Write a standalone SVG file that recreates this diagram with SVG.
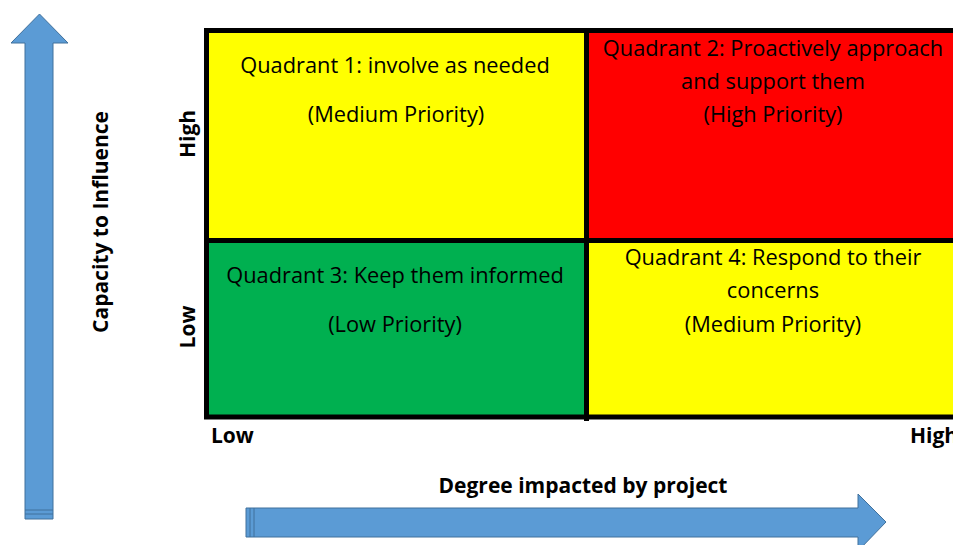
<svg xmlns="http://www.w3.org/2000/svg" width="953" height="545" viewBox="0 0 953 545">
<style>
.q{font-family:"Open Sans","Liberation Sans",sans-serif;font-size:21.8px;fill:#000;text-anchor:middle}
.b{font-family:"Open Sans","Liberation Sans",sans-serif;font-size:21px;font-weight:bold;fill:#000}
.arrow{fill:#5B9BD5;stroke:#41719C;stroke-width:1}
.grid{fill:none;stroke:#000;stroke-width:5}
</style>
<rect width="953" height="545" fill="#fff"/>
<g id="arrow-vertical">
<polygon class="arrow" points="39.5,14 68,43 53,43 53,519 25,519 25,43 11,43"/>
<line x1="25" y1="510" x2="53" y2="510" stroke="#41719C" stroke-width="1"/>
<line x1="25" y1="514" x2="53" y2="514" stroke="#41719C" stroke-width="1"/>
</g>
<g id="arrow-horizontal">
<polygon class="arrow" points="886,522 858,494 858,508 246,508 246,537 858,537 858,551"/>
<line x1="250" y1="508" x2="250" y2="537" stroke="#41719C" stroke-width="1"/>
<line x1="254" y1="508" x2="254" y2="537" stroke="#41719C" stroke-width="1"/>
</g>
<g id="q1">
<rect x="206.5" y="30.5" width="380" height="210" fill="#FFFF00"/>
<text class="q" x="395" y="73">Quadrant 1: involve as needed</text>
<text class="q" x="396" y="122">(Medium Priority)</text>
</g>
<g id="q2">
<rect x="586.5" y="30.5" width="380" height="210" fill="#FF0000"/>
<text class="q" x="773" y="56">Quadrant 2: Proactively approach</text>
<text class="q" x="773" y="89">and support them</text>
<text class="q" x="773" y="122">(High Priority)</text>
</g>
<g id="q3">
<rect x="206.5" y="240.5" width="380" height="176.5" fill="#00B050"/>
<text class="q" x="395" y="283">Quadrant 3: Keep them informed</text>
<text class="q" x="395" y="332">(Low Priority)</text>
</g>
<g id="q4">
<rect x="586.5" y="240.5" width="380" height="176.5" fill="#FFFF00"/>
<text class="q" x="773" y="265">Quadrant 4: Respond to their</text>
<text class="q" x="773" y="298">concerns</text>
<text class="q" x="773" y="332">(Medium Priority)</text>
</g>
<g id="grid-lines">
<rect class="grid" x="206.5" y="30.5" width="760" height="386.5"/>
<line class="grid" x1="206.5" y1="240.5" x2="966.5" y2="240.5"/>
<line class="grid" x1="586.5" y1="30.5" x2="586.5" y2="421"/>
</g>
<g id="labels">
<text class="b" transform="translate(195,134) rotate(-90)" text-anchor="middle">High</text>
<text class="b" transform="translate(195,327) rotate(-90)" text-anchor="middle">Low</text>
<text class="b" transform="translate(108,222) rotate(-90)" text-anchor="middle">Capacity to Influence</text>
<text class="b" x="211" y="443">Low</text>
<text class="b" x="910" y="443">High</text>
<text class="b" x="583" y="493" text-anchor="middle">Degree impacted by project</text>
</g>
</svg>
